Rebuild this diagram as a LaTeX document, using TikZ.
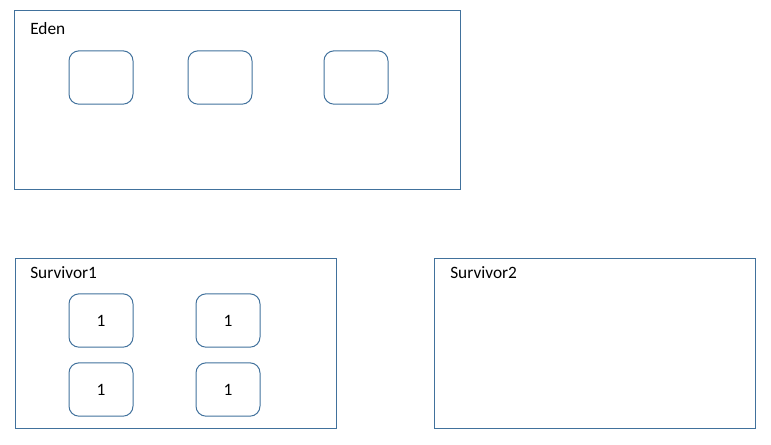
\documentclass[tikz,border=0pt]{standalone}
\usepackage{fontspec}
\setmainfont{Carlito}
\usepackage{tikz}
\usepackage{xcolor}
\usetikzlibrary{positioning}

\definecolor{edgeblue}{RGB}{65,113,156}

\tikzset{
    area/.style={draw=edgeblue, line width=0.75pt, inner sep=0pt},
    cell/.style={draw=edgeblue, line width=0.75pt, rounded corners=7.5pt,
        minimum width=48pt, minimum height=40pt, inner sep=0pt},
    title/.style={anchor=west, inner sep=0pt}
}

\begin{document}
\begin{tikzpicture}[x=0.75pt, y=-0.75pt, font=\fontsize{13pt}{15pt}\selectfont]
    \useasboundingbox (0,0) rectangle (771,444);

    % Eden space
    \node[area, minimum width=334.5pt, minimum height=134.25pt] (eden) at (237,99.5) {};
    \node[title] (edenlabel) at (30,29) {Eden};
    \node[cell] (e1) at (101,77.5) {};
    \node[cell] (e2) at (220,77.5) {};
    \node[cell] (e3) at (356,77.5) {};

    % Survivor spaces
    \node[area, minimum width=240.75pt, minimum height=127.5pt] (surv1) at (175.5,343) {};
    \node[title] (surv1label) at (30,273) {Survivor1};
    \node[cell] (s11) at (101,320.5) {1};
    \node[cell] (s12) at (228,320.5) {1};
    \node[cell] (s13) at (101,389.5) {1};
    \node[cell] (s14) at (228,389.5) {1};

    \node[area, minimum width=240.75pt, minimum height=127.5pt] (surv2) at (595,343) {};
    \node[title] (surv2label) at (450,273) {Survivor2};
\end{tikzpicture}
\end{document}
